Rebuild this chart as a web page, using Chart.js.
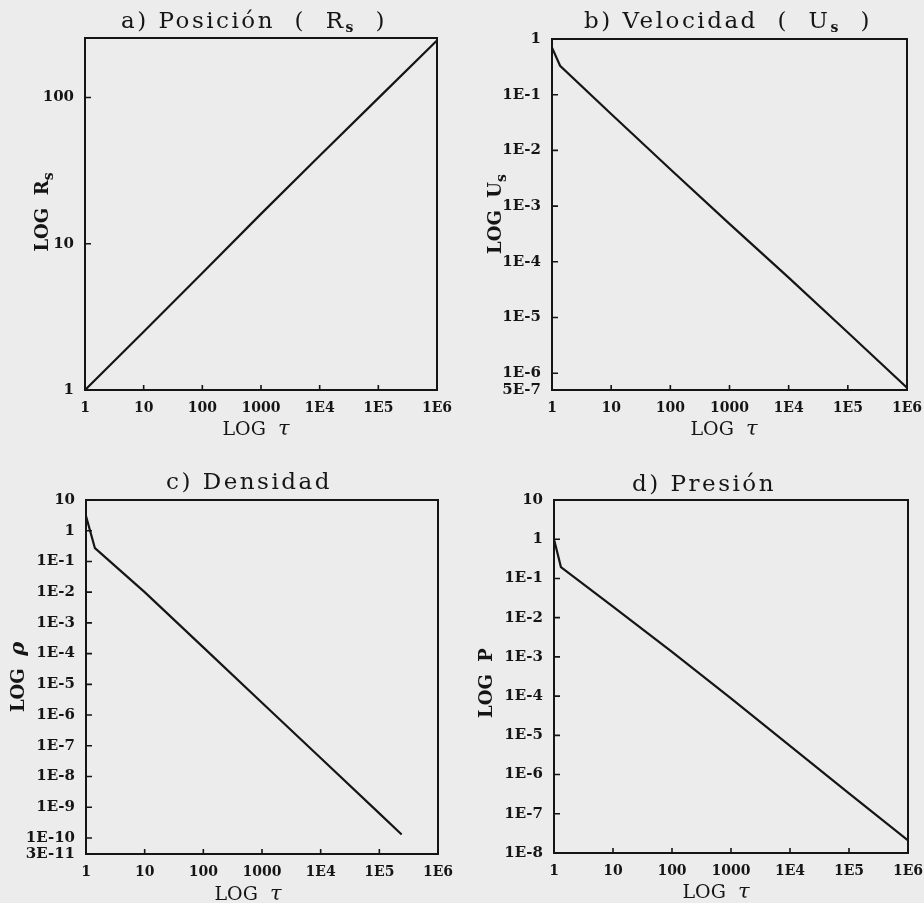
<!doctype html>
<html>
  <head>
    <title>Onda de choque</title>
    <script src="https://cdn.jsdelivr.net/npm/chart.js@4.4.0/dist/chart.umd.min.js"></script>
    <style>
    body { margin: 0; background: #ececec; }
    #fig { position: relative; width: 924px; height: 903px; }
    canvas { position: absolute; }
    </style>
  </head>

  <body>
    <div id="fig">
      <canvas id="cA" width="462" height="451" style="left:0;top:0;width:462px;height:451px"></canvas>
      <canvas id="cB" width="462" height="451" style="left:462px;top:0;width:462px;height:451px"></canvas>
      <canvas id="cC" width="462" height="452" style="left:0;top:451px;width:462px;height:452px"></canvas>
      <canvas id="cD" width="462" height="452" style="left:462px;top:451px;width:462px;height:452px"></canvas>
    </div>

    <script>
      // eje de tiempo, comun a los cuatro paneles
      const tauTicks = [1, 10, 100, 1000, 1e4, 1e5, 1e6];
      const tauLabels = ['1', '10', '100', '1000', '1E4', '1E5', '1E6'];

      // a) Posicion
      const tauR = [1, 10, 100, 1000, 1e4, 1e5, 1e6];
      const radio = [1, 2.5, 6.3, 16, 40, 99, 245];
      const rTicks = [1, 10, 100];
      const rLabels = ['1', '10', '100'];

      // b) Velocidad
      const tauU = [1, 1.37, 10, 100, 1000, 1e4, 1e5, 1e6];
      const velocidad = [0.7, 0.33, 0.045, 4.6e-3, 4.8e-4, 5.2e-5, 5.4e-6, 5.5e-7];
      const uTicks = [5e-7, 1e-6, 1e-5, 1e-4, 1e-3, 1e-2, 1e-1, 1];
      const uLabels = ['5E-7', '1E-6', '1E-5', '1E-4', '1E-3', '1E-2', '1E-1', '1'];

      // c) Densidad
      const tauRho = [1, 1.42, 10, 100, 1000, 1e4, 1e5, 2.4e5];
      const densidad = [3, 0.27, 1e-2, 1.6e-4, 2.5e-6, 4e-8, 6.3e-10, 1.3e-10];
      const rhoTicks = [3e-11, 1e-10, 1e-9, 1e-8, 1e-7, 1e-6, 1e-5, 1e-4, 1e-3, 1e-2, 1e-1, 1, 10];
      const rhoLabels = ['3E-11', '1E-10', '1E-9', '1E-8', '1E-7', '1E-6', '1E-5', '1E-4', '1E-3', '1E-2', '1E-1', '1', '10'];

      // d) Presion
      const tauP = [1, 1.31, 10, 100, 1000, 1e4, 1e5, 1e6];
      const presion = [1, 0.195, 0.019, 1.35e-3, 8.8e-5, 5.4e-6, 3.3e-7, 2.1e-8];
      const pTicks = [1e-8, 1e-7, 1e-6, 1e-5, 1e-4, 1e-3, 1e-2, 1e-1, 1, 10];
      const pLabels = ['1E-8', '1E-7', '1E-6', '1E-5', '1E-4', '1E-3', '1E-2', '1E-1', '1', '10'];

      const INK = '#151515';
      const TITLE = '23px "DejaVu Serif"';
      const SUB = 'bold 14px "DejaVu Serif"';
      const AXT = '19px "DejaVu Serif"';
      const YAXT = 'bold 18px "DejaVu Serif"';
      const TAU = 'italic 21px "DejaVu Serif"';

      function drawRich(ctx, parts, x, y, rot, spacing) {
        ctx.save();
        ctx.translate(x, y);
        if (rot) ctx.rotate(-Math.PI / 2);
        ctx.letterSpacing = spacing || '0px';
        let w = 0;
        parts.forEach(p => { ctx.font = p.font; w += ctx.measureText(p.text).width; });
        let cx = -w / 2;
        ctx.textBaseline = 'middle';
        ctx.textAlign = 'left';
        ctx.fillStyle = INK;
        parts.forEach(p => {
          ctx.font = p.font;
          ctx.fillText(p.text, cx, p.dy || 0);
          cx += ctx.measureText(p.text).width;
        });
        ctx.restore();
      }

      function makePanel(id, p) {
        const frame = {
          id: 'frame' + id,
          afterDraw(chart) {
            const {ctx, chartArea: a, scales} = chart;
            ctx.save();
            ctx.strokeStyle = INK;
            ctx.lineWidth = 2;
            ctx.strokeRect(a.left, a.top, a.right - a.left, a.bottom - a.top);
            ctx.lineWidth = 1.6;
            ctx.beginPath();
            scales.x.ticks.forEach(t => {
              const px = scales.x.getPixelForValue(t.value);
              ctx.moveTo(px, a.bottom);
              ctx.lineTo(px, a.bottom - 5);
            });
            scales.y.ticks.forEach(t => {
              const py = scales.y.getPixelForValue(t.value);
              ctx.moveTo(a.left, py);
              ctx.lineTo(a.left + 6, py);
            });
            ctx.stroke();
            ctx.restore();
            drawRich(ctx, p.title, p.titlePos[0], p.titlePos[1], false, '2.5px');
            drawRich(ctx, [{text: 'LOG  ', font: AXT}, {text: 'τ', font: TAU}],
                     p.xTitlePos[0], p.xTitlePos[1], false);
            drawRich(ctx, p.yTitle, p.yTitlePos[0], p.yTitlePos[1], true);
          }
        };

        const ctx = document.getElementById(id).getContext('2d');
        return new Chart(ctx, {
          type: 'line',
          data: {
            datasets: [{
              data: p.tau.map((t, i) => ({x: t, y: p.vals[i]})),
              borderColor: INK,
              borderWidth: 2.2,
              pointRadius: 0,
              tension: 0,
              fill: false
            }]
          },
          options: {
            responsive: false,
            animation: false,
            devicePixelRatio: 1,
            layout: {padding: {left: 0, right: p.right, top: p.top, bottom: 0}},
            plugins: {legend: {display: false}, tooltip: {enabled: false}, title: {display: false}},
            scales: {
              x: {
                type: 'logarithmic',
                min: 1, max: 1e6,
                grid: {display: false, drawTicks: false},
                border: {display: false},
                afterBuildTicks: s => { s.ticks = tauTicks.map(v => ({value: v})); },
                afterFit: s => { s.height = p.xh; s.paddingLeft = 0; s.paddingRight = 0; },
                ticks: {
                  autoSkip: false, maxRotation: 0, padding: 10, color: INK,
                  font: {family: 'DejaVu Serif', size: 14, weight: 'bold'},
                  callback: v => tauLabels[tauTicks.indexOf(v)]
                }
              },
              y: {
                type: 'logarithmic',
                min: p.ymin, max: p.ymax,
                grid: {display: false, drawTicks: false},
                border: {display: false},
                afterBuildTicks: s => { s.ticks = p.yTicks.map(v => ({value: v})); },
                afterFit: s => { s.width = p.left; s.paddingTop = 0; s.paddingBottom = 0; },
                ticks: {
                  autoSkip: false, padding: 11, color: INK,
                  font: {family: 'DejaVu Serif', size: 15, weight: 'bold'},
                  callback: v => p.yLabels[p.yTicks.indexOf(v)]
                }
              }
            }
          },
          plugins: [frame]
        });
      }

      makePanel('cA', {
        tau: tauR, vals: radio, ymin: 1, ymax: 255, yTicks: rTicks, yLabels: rLabels,
        left: 85, right: 25, top: 38, xh: 61,
        title: [{text: 'a) Posición  (  R', font: TITLE}, {text: 's', font: SUB, dy: 6}, {text: '  )', font: TITLE}],
        titlePos: [254, 22],
        yTitle: [{text: 'LOG  R', font: YAXT}, {text: 's', font: SUB, dy: 6}],
        yTitlePos: [43, 212],
        xTitlePos: [256, 430]
      });

      makePanel('cB', {
        tau: tauU, vals: velocidad, ymin: 5e-7, ymax: 1, yTicks: uTicks, yLabels: uLabels,
        left: 90, right: 17, top: 39, xh: 61,
        title: [{text: 'b) Velocidad  (  U', font: TITLE}, {text: 's', font: SUB, dy: 6}, {text: '  )', font: TITLE}],
        titlePos: [266, 22],
        yTitle: [{text: 'LOG  U', font: YAXT}, {text: 's', font: SUB, dy: 6}],
        yTitlePos: [34, 214],
        xTitlePos: [262, 430]
      });

      makePanel('cC', {
        tau: tauRho, vals: densidad, ymin: 3e-11, ymax: 10, yTicks: rhoTicks, yLabels: rhoLabels,
        left: 86, right: 24, top: 49, xh: 49,
        title: [{text: 'c) Densidad', font: TITLE}],
        titlePos: [249, 32],
        yTitle: [{text: 'LOG  ', font: YAXT}, {text: 'ρ', font: 'bold italic 21px "DejaVu Serif"'}],
        yTitlePos: [19, 226],
        xTitlePos: [248, 444]
      });

      makePanel('cD', {
        tau: tauP, vals: presion, ymin: 1e-8, ymax: 10, yTicks: pTicks, yLabels: pLabels,
        left: 92, right: 16, top: 49, xh: 50,
        title: [{text: 'd) Presión', font: TITLE}],
        titlePos: [242, 34],
        yTitle: [{text: 'LOG  P', font: YAXT}],
        yTitlePos: [25, 232],
        xTitlePos: [254, 442]
      });
    </script>
  </body>
</html>
